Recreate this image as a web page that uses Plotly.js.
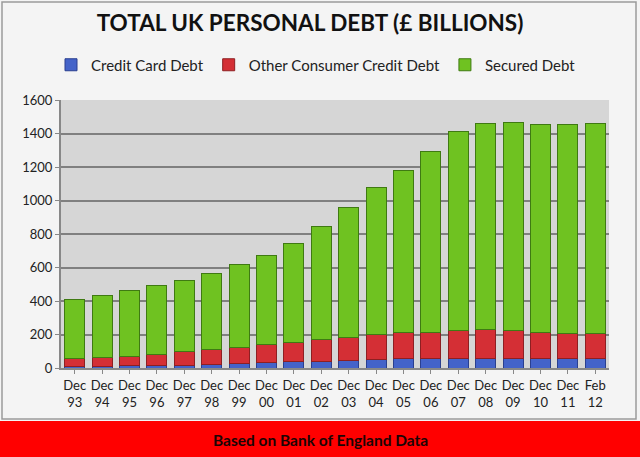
<!DOCTYPE html>
<html>
<head>
<meta charset="utf-8">
<script src="https://cdn.plot.ly/plotly-3.0.1.min.js"></script>
<style>html,body{margin:0;padding:0;background:#f4f4f4;}#chart{width:640px;height:457px;}</style>
</head>
<body>
<div id="chart"></div>
<script>
const categories = ["Dec<br>93","Dec<br>94","Dec<br>95","Dec<br>96","Dec<br>97","Dec<br>98","Dec<br>99","Dec<br>00","Dec<br>01","Dec<br>02","Dec<br>03","Dec<br>04","Dec<br>05","Dec<br>06","Dec<br>07","Dec<br>08","Dec<br>09","Dec<br>10","Dec<br>11","Feb<br>12"];
const creditCard = [10,11,12,14,17,21,26,31,36,40,46,53,55,55,55,54,55,57,56,56];
const otherConsumer = [45,49,58,69,79,89,99,109,119,130,134,145,155,157,167,176,171,157,152,152];
const secured = [355,375,392,409,429,455,493,532,587,675,778,880,970,1078,1188,1230,1239,1241,1247,1252];
const yTicks = [0,200,400,600,800,1000,1200,1400,1600];

const W = 640, H = 457;
const L = 61, R = 31, T = 100, B = 89;
const pw = W - L - R, ph = H - T - B;
const px = X => (X - L) / pw;
const py = Y => (H - B - Y) / ph;

const mk = (name, y, color, line) => ({
  type: 'bar', name: name, x: categories, y: y,
  marker: {color: color, line: {color: line, width: 1}},
  hoverinfo: 'y'
});

const data = [
  mk('Credit Card Debt', creditCard, '#4463c9', '#2a3f8f'),
  mk('Other Consumer Credit Debt', otherConsumer, '#d42f35', '#8e1f22'),
  mk('Secured Debt', secured, '#6fc221', '#3f7a12')
];

const layout = {
  width: W, height: H,
  margin: {l: L, r: R, t: T, b: B},
  paper_bgcolor: '#f4f4f4',
  plot_bgcolor: '#d6d6d6',
  barmode: 'stack',
  bargap: 0.27,
  font: {family: 'Lato, "Open Sans", sans-serif', color: '#222'},
  title: {text: '<b>TOTAL UK PERSONAL DEBT (£ BILLIONS)</b>', x: 310/W, xanchor: 'center', y: 1 - 23/H, yanchor: 'middle', font: {size: 22.5, color: '#111', family: 'Lato, sans-serif'}},
  showlegend: true,
  legend: {orientation: 'h', x: px(316), xanchor: 'center', y: py(65), yanchor: 'middle', font: {size: 15, color: '#222'}, itemwidth: 30, traceorder: 'normal', bgcolor: 'rgba(0,0,0,0)'},
  xaxis: {tickfont: {size: 13, color: '#222'}, ticks: 'outside', ticklen: 4, tickcolor: '#888', showline: true, linecolor: '#888', linewidth: 2, fixedrange: true},
  yaxis: {range: [0, 1600], tickvals: yTicks, tickfont: {size: 13, color: '#222'}, gridcolor: '#808080', gridwidth: 2, showline: true, linecolor: '#888', linewidth: 2, ticks: 'outside', ticklen: 4, tickcolor: '#888', zeroline: false, fixedrange: true},
  shapes: [
    {type: 'rect', xref: 'paper', yref: 'paper', x0: px(2), x1: px(636), y0: py(419), y1: py(2), line: {color: '#9a9a9a', width: 1.5}, fillcolor: 'rgba(0,0,0,0)', layer: 'below'},
    {type: 'rect', xref: 'paper', yref: 'paper', x0: px(0), x1: px(640), y0: py(457), y1: py(421), line: {width: 0}, fillcolor: '#ff0000', layer: 'above'}
  ],
  annotations: [
    {text: '<b>Based on Bank of England Data</b>', xref: 'paper', yref: 'paper', x: px(320), y: py(440), xanchor: 'center', yanchor: 'middle', showarrow: false, font: {size: 15.5, color: '#1a0505', family: 'Lato, sans-serif'}}
  ]
};

Plotly.newPlot('chart', data, layout, {displayModeBar: false, staticPlot: true});
</script>
</body>
</html>
